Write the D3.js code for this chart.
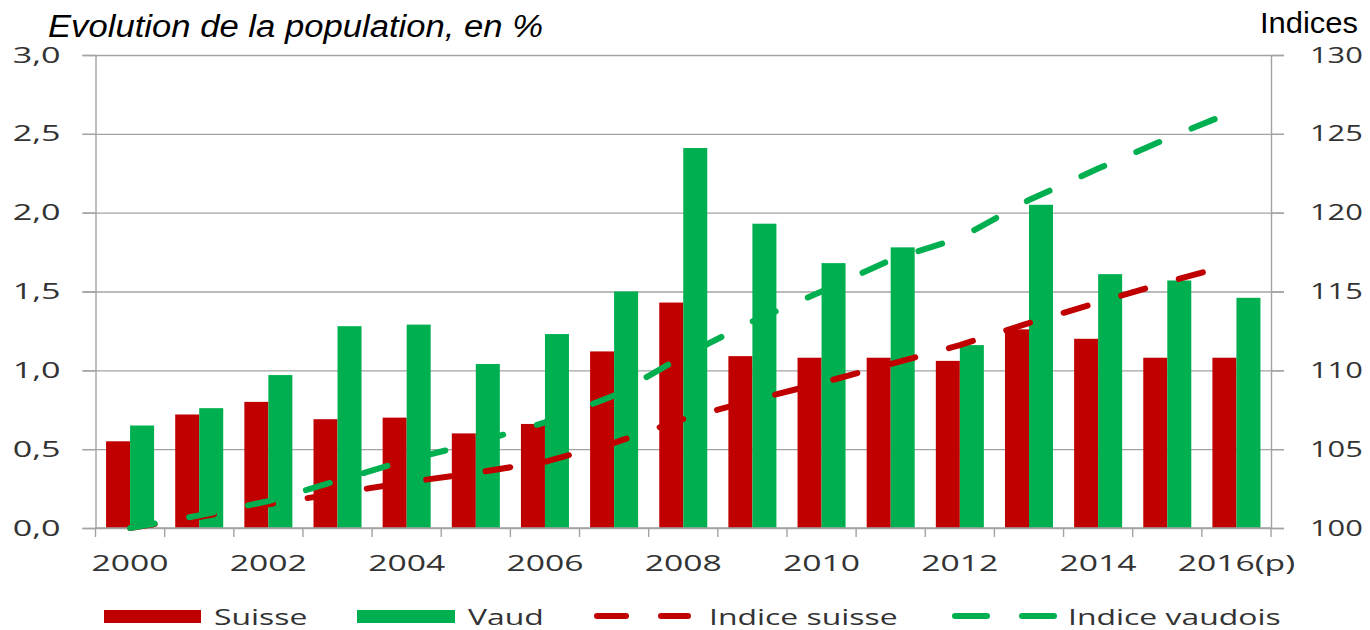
<meta charset="utf-8">
<style>body { margin: 0; } svg { display: block; }</style>
<svg width="1370" height="630"></svg>
<script src="https://d3js.org/d3.v7.min.js"></script>
<script>
// Evolution de la population - Suisse / Vaud
var years = ["2000","2001","2002","2003","2004","2005","2006","2007","2008","2009","2010","2011","2012","2013","2014","2015","2016"];
var yearLabels = ["2000","","2002","","2004","","2006","","2008","","2010","","2012","","2014","","2016(p)"];
var suisse = [0.55,0.72,0.80,0.69,0.70,0.60,0.66,1.12,1.43,1.09,1.08,1.08,1.06,1.26,1.20,1.08,1.08];
var vaud = [0.65,0.76,0.97,1.28,1.29,1.04,1.23,1.50,2.41,1.93,1.68,1.78,1.16,2.05,1.61,1.57,1.46];
var indiceSuisse = [100.0,100.7,101.5,102.2,102.9,103.5,104.2,105.4,106.9,108.1,109.2,110.4,111.6,113.0,114.3,115.6,116.8];
var indiceVaud = [100.0,100.8,101.7,103.0,104.3,105.4,106.7,108.4,110.9,113.1,115.0,117.0,118.4,120.8,122.8,124.7,126.5];
var leftTicks = [0,0.5,1,1.5,2,2.5,3];
var rightTicks = [100,105,110,115,120,125,130];

var red = "#c00000", green = "#00b050", grid = "#a3a3a3", labelCol = "#333";
var tickFont = "'Open Sans', 'DejaVu Sans', sans-serif";

var svg = d3.select("svg"),
    margin = {top: 55, right: 99, bottom: 102, left: 95.5},
    width = +svg.attr("width"),
    height = +svg.attr("height");

var x = d3.scaleBand()
    .domain(years)
    .range([margin.left, width - margin.right])
    .padding(0);

var x1 = d3.scaleBand()
    .domain(["suisse","vaud"])
    .range([0, x.bandwidth()])
    .paddingInner(0)
    .paddingOuter(0.44);

var y = d3.scaleLinear()
    .domain([0, 3])
    .range([height - margin.bottom, margin.top]);

var yR = d3.scaleLinear()
    .domain([100, 130])
    .range([height - margin.bottom, margin.top]);

// stretch text horizontally like the original picture
function stretch(sel, k) {
  sel.each(function() {
    var w = this.getComputedTextLength();
    d3.select(this).attr("textLength", w * k).attr("lengthAdjust", "spacingAndGlyphs");
  });
}

// gridlines
var x0 = margin.left - 13, x2 = width - margin.right + 13;
svg.append("g")
    .attr("transform", "translate(" + x0 + ",0)")
    .call(d3.axisRight(y).tickValues(leftTicks).tickSize(x2 - x0).tickFormat(""))
    .call(function(g) { g.select(".domain").remove(); })
    .selectAll("line").attr("stroke", grid).attr("stroke-width", 1.4);

// bars
var rows = years.map(function(yr, i) { return {year: yr, suisse: suisse[i], vaud: vaud[i]}; });
svg.append("g")
  .selectAll("g")
  .data(rows)
  .enter().append("g")
    .attr("transform", function(d) { return "translate(" + x(d.year) + ",0)"; })
  .selectAll("rect")
  .data(function(d) { return [{key: "suisse", v: d.suisse}, {key: "vaud", v: d.vaud}]; })
  .enter().append("rect")
    .attr("x", function(d) { return x1(d.key); })
    .attr("y", function(d) { return y(d.v); })
    .attr("width", x1.bandwidth())
    .attr("height", function(d) { return y(0) - y(d.v); })
    .attr("fill", function(d) { return d.key == "suisse" ? red : green; });

// axes
var fmt = function(d) { return d3.format(".1f")(d).replace(".", ","); };
var gl = svg.append("g")
    .attr("transform", "translate(" + margin.left + ",0)")
    .call(d3.axisLeft(y).tickValues(leftTicks).tickSize(13).tickSizeOuter(0).tickPadding(22).tickFormat(fmt));
var gr = svg.append("g")
    .attr("transform", "translate(" + (width - margin.right) + ",0)")
    .call(d3.axisRight(yR).tickValues(rightTicks).tickSize(13).tickSizeOuter(0).tickPadding(26));
[gl, gr].forEach(function(g) {
  g.select(".domain").attr("stroke", grid).attr("stroke-width", 1.4);
  g.selectAll("line").attr("stroke", grid).attr("stroke-width", 1.4);
  g.selectAll("text").attr("font-family", tickFont).attr("font-size", 22).attr("fill", labelCol);
});
gl.selectAll("text").call(stretch, 1.55);
gr.selectAll("text").call(stretch, 1.4);

// x axis
var gx = svg.append("g")
    .attr("transform", "translate(0," + y(0) + ")");
gx.append("line")
    .attr("x1", margin.left).attr("x2", width - margin.right)
    .attr("stroke", grid).attr("stroke-width", 1.4);
gx.selectAll(".tk")
  .data(years.concat(["end"]))
  .enter().append("line")
    .attr("class", "tk")
    .attr("x1", function(d) { return d == "end" ? x.range()[1] : x(d); })
    .attr("x2", function(d) { return d == "end" ? x.range()[1] : x(d); })
    .attr("y1", 0).attr("y2", 9)
    .attr("stroke", grid).attr("stroke-width", 1.4);
gx.selectAll(".lb")
  .data(years.filter(function(d, i) { return yearLabels[i] != ""; }))
  .enter().append("text")
    .attr("class", "lb")
    .attr("x", function(d) { return x(d) + x.bandwidth() / 2; })
    .attr("y", 43)
    .attr("text-anchor", "middle")
    .attr("font-family", tickFont).attr("font-size", 22).attr("fill", labelCol)
    .text(function(d) { return yearLabels[years.indexOf(d)]; })
    .call(stretch, 1.53);

// index lines
var line = d3.line()
    .x(function(d) { return x(d.year) + x.bandwidth() / 2; })
    .y(function(d) { return yR(d.v); });
[[indiceSuisse, red], [indiceVaud, green]].forEach(function(s) {
  svg.append("path")
    .datum(years.map(function(yr, i) { return {year: yr, v: s[0][i]}; }))
    .attr("d", line)
    .attr("fill", "none")
    .attr("stroke", s[1])
    .attr("stroke-width", 6)
    .attr("stroke-linecap", "round")
    .attr("stroke-dasharray", "25,35");
});

// titles
svg.append("text")
    .attr("x", 48).attr("y", 37)
    .attr("font-family", "'Liberation Sans', Arial, sans-serif")
    .attr("font-style", "italic").attr("font-size", 31)
    .attr("textLength", 495).attr("lengthAdjust", "spacingAndGlyphs")
    .text("Evolution de la population, en %");
svg.append("text")
    .attr("x", 1260).attr("y", 33)
    .attr("font-family", "'Liberation Sans', Arial, sans-serif")
    .attr("font-size", 29)
    .attr("textLength", 98).attr("lengthAdjust", "spacingAndGlyphs")
    .text("Indices");

// legend
var legY = 616;
var legend = svg.append("g");
legend.append("rect").attr("x", 104).attr("y", 610).attr("width", 97).attr("height", 13).attr("fill", red);
legend.append("rect").attr("x", 357).attr("y", 610).attr("width", 98).attr("height", 13).attr("fill", green);
legend.append("line").attr("x1", 597).attr("x2", 688).attr("y1", legY).attr("y2", legY)
    .attr("stroke", red).attr("stroke-width", 6).attr("stroke-linecap", "round").attr("stroke-dasharray", "29,35");
legend.append("line").attr("x1", 955).attr("x2", 1056).attr("y1", legY).attr("y2", legY)
    .attr("stroke", green).attr("stroke-width", 6).attr("stroke-linecap", "round").attr("stroke-dasharray", "32,35");
var legText = [["Suisse", 214], ["Vaud", 468], ["Indice suisse", 709], ["Indice vaudois", 1068]];
legend.selectAll("text")
  .data(legText)
  .enter().append("text")
    .attr("x", function(d) { return d[1]; })
    .attr("y", 625)
    .attr("font-family", tickFont).attr("font-size", 22).attr("fill", labelCol)
    .text(function(d) { return d[0]; })
    .call(stretch, 1.45);
</script>
